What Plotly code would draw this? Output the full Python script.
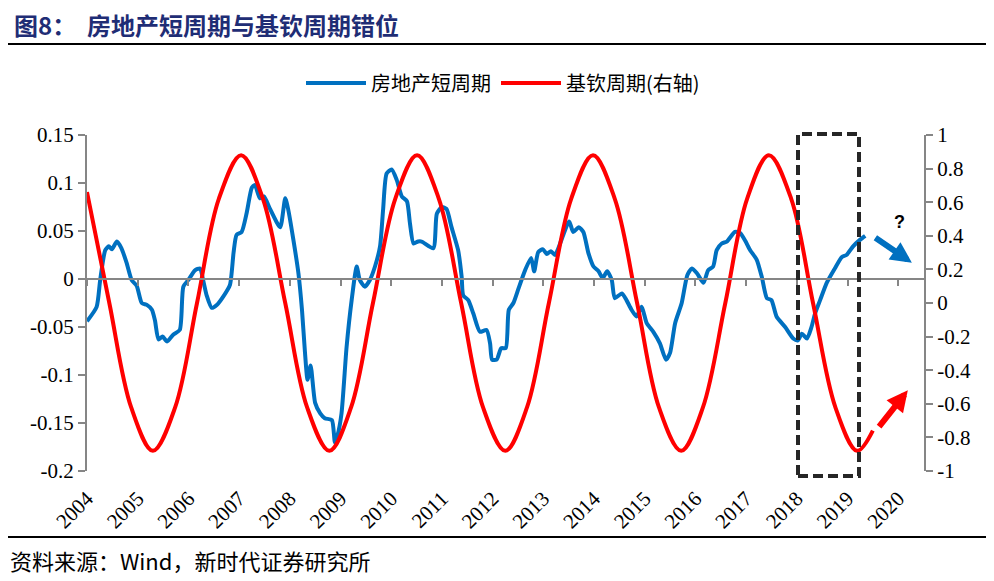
import plotly.graph_objects as go

# ---------------- data ----------------
blue_t = [2004.00, 2004.19, 2004.26, 2004.36, 2004.43, 2004.49, 2004.59, 2004.68, 2004.78, 2004.88,
          2004.98, 2005.08, 2005.18, 2005.28, 2005.34, 2005.41, 2005.49, 2005.58, 2005.70, 2005.83,
          2005.90, 2006.00, 2006.13, 2006.23, 2006.29, 2006.36, 2006.46, 2006.56, 2006.69, 2006.82,
          2006.89, 2006.95, 2007.05, 2007.15, 2007.25, 2007.31, 2007.41, 2007.49, 2007.61, 2007.81,
          2007.91, 2007.97, 2008.07, 2008.17, 2008.24, 2008.30, 2008.35, 2008.41, 2008.50, 2008.60,
          2008.69, 2008.83, 2008.89, 2008.94, 2009.02, 2009.12, 2009.22, 2009.32, 2009.38, 2009.48,
          2009.58, 2009.68, 2009.78, 2009.84, 2009.91, 2010.01, 2010.11, 2010.21, 2010.31, 2010.37,
          2010.44, 2010.53, 2010.60, 2010.83, 2010.90, 2011.00, 2011.09, 2011.19, 2011.32, 2011.39,
          2011.42, 2011.52, 2011.62, 2011.75, 2011.88, 2011.95, 2011.99, 2012.08, 2012.17, 2012.26,
          2012.32, 2012.41, 2012.51, 2012.64, 2012.76, 2012.82, 2012.90, 2012.99, 2013.07, 2013.15,
          2013.23, 2013.36, 2013.51, 2013.59, 2013.70, 2013.79, 2013.89, 2013.99, 2014.09, 2014.17,
          2014.26, 2014.35, 2014.41, 2014.55, 2014.64, 2014.74, 2014.84, 2014.94, 2015.04, 2015.17,
          2015.30, 2015.42, 2015.50, 2015.60, 2015.73, 2015.84, 2015.93, 2016.03, 2016.16, 2016.25,
          2016.35, 2016.42, 2016.52, 2016.62, 2016.78, 2016.88, 2016.98, 2017.08, 2017.21, 2017.31,
          2017.41, 2017.50, 2017.60, 2017.77, 2017.93, 2018.02, 2018.10, 2018.20, 2018.29, 2018.36,
          2018.46, 2018.59, 2018.75, 2018.89, 2018.98, 2019.11, 2019.25, 2019.35]
blue_v = [-0.044, -0.029, -0.001, 0.030, 0.034, 0.031, 0.039, 0.032, 0.017, -0.001,
          -0.007, -0.025, -0.027, -0.032, -0.043, -0.063, -0.060, -0.065, -0.058, -0.053,
          -0.008, -0.001, 0.009, 0.011, -0.001, -0.017, -0.030, -0.027, -0.018, -0.006,
          0.027, 0.046, 0.049, 0.069, 0.095, 0.098, 0.084, 0.086, 0.073, 0.054,
          0.084, 0.072, 0.041, 0.006, -0.032, -0.077, -0.105, -0.090, -0.129, -0.140,
          -0.145, -0.147, -0.170, -0.163, -0.140, -0.071, -0.022, 0.013, -0.001, -0.008,
          -0.001, 0.013, 0.034, 0.072, 0.110, 0.114, 0.103, 0.086, 0.081, 0.058,
          0.037, 0.039, 0.039, 0.032, 0.068, 0.075, 0.073, 0.054, 0.030, 0.002,
          -0.017, -0.022, -0.036, -0.055, -0.053, -0.067, -0.084, -0.084, -0.072, -0.072,
          -0.032, -0.025, -0.010, 0.009, 0.022, 0.008, 0.028, 0.031, 0.026, 0.029,
          0.025, 0.041, 0.060, 0.049, 0.054, 0.049, 0.027, 0.013, 0.008, 0.001,
          0.008, -0.001, -0.020, -0.015, -0.022, -0.032, -0.039, -0.029, -0.046, -0.055,
          -0.067, -0.084, -0.077, -0.046, -0.025, 0.004, 0.011, 0.006, -0.004, 0.009,
          0.013, 0.030, 0.037, 0.039, 0.049, 0.048, 0.040, 0.030, 0.020, 0.002,
          -0.020, -0.022, -0.039, -0.050, -0.062, -0.064, -0.057, -0.062, -0.050, -0.036,
          -0.022, -0.004, 0.011, 0.023, 0.025, 0.034, 0.041, 0.045]

red_t = [2004.00, 2004.44, 2004.87, 2005.30, 2005.74, 2006.17, 2006.60, 2007.04, 2007.47, 2007.91,
         2008.34, 2008.78, 2009.21, 2009.64, 2010.08, 2010.51, 2010.94, 2011.38, 2011.81, 2012.25,
         2012.68, 2013.11, 2013.55, 2013.98, 2014.41, 2014.85, 2015.28, 2015.72, 2016.15, 2016.59,
         2017.02, 2017.45, 2017.89, 2018.32, 2018.76, 2019.19, 2019.50]
red_v = [0.66, 0.0, -0.62, -0.88, -0.62, 0.0, 0.62, 0.88, 0.62, 0.0,
         -0.62, -0.88, -0.62, 0.0, 0.62, 0.88, 0.62, 0.0, -0.62, -0.88,
         -0.62, 0.0, 0.62, 0.88, 0.62, 0.0, -0.62, -0.88, -0.62, 0.0,
         0.62, 0.88, 0.62, 0.0, -0.62, -0.88, -0.76]

year_ticks = list(range(2004, 2021))
year_labels = [str(y) for y in year_ticks]
left_vals = [0.15, 0.1, 0.05, 0, -0.05, -0.1, -0.15, -0.2]
left_text = ["0.15", "0.1", "0.05", "0", "-0.05", "-0.1", "-0.15", "-0.2"]
right_vals = [1, 0.8, 0.6, 0.4, 0.2, 0, -0.2, -0.4, -0.6, -0.8, -1]
right_text = ["1", "0.8", "0.6", "0.4", "0.2", "0", "-0.2", "-0.4", "-0.6", "-0.8", "-1"]

name_blue = "房地产短周期"
name_red = "基钦周期(右轴)"
title_text = "图8：  房地产短周期与基钦周期错位"
source_text = "资料来源：Wind，新时代证券研究所"

# ---------------- layout geometry ----------------
# the page body adds an 8px offset, so the figure is laid out in page pixels minus OFF
OFF = 8
W, H = 994 - OFF, 581 - OFF
L = 87 - OFF
T = 135 - OFF
R = W - (924 - OFF)
B = H - (471 - OFF)
PW, PH = W - L - R, H - T - B


def px(x):
    return (x - OFF - L) / PW


def py(y):
    return (H - B - (y - OFF)) / PH


BLUE = "#0070C0"
RED = "#FF0000"
AXC = "#868686"
SERIF = "Liberation Serif, Times New Roman, serif"
CJK = "Noto Sans CJK SC, sans-serif"

fig = go.Figure()
fig.add_trace(go.Scatter(x=blue_t, y=blue_v, name=name_blue, mode="lines",
                         line=dict(color=BLUE, width=4, shape="spline", smoothing=0.6),
                         yaxis="y"))
fig.add_trace(go.Scatter(x=red_t, y=red_v, name=name_red, mode="lines",
                         line=dict(color=RED, width=4, shape="spline", smoothing=1.0),
                         yaxis="y2"))

xr = [2004, 2004 + (924 - 87) / 50.7]
y_range = [-0.2, 0.15]
zero_pos = (0 - y_range[0]) / (y_range[1] - y_range[0])

fig.update_layout(
    width=W, height=H,
    margin=dict(l=L, r=R, t=T, b=B),
    paper_bgcolor="white", plot_bgcolor="white",
    showlegend=True,
    legend=dict(orientation="h", x=px(503), xanchor="center", y=py(83), yanchor="middle",
                font=dict(family=CJK, size=20, color="black"), itemwidth=60,
                bgcolor="rgba(0,0,0,0)"),
    xaxis=dict(range=xr, tickvals=year_ticks, ticktext=year_labels, tickangle=-45,
               showline=False, showgrid=False, zeroline=False, ticks="outside", ticklen=6,
               tickcolor="rgba(0,0,0,0)",
               tickfont=dict(family=SERIF, size=21, color="black")),
    xaxis2=dict(range=xr, overlaying="x", anchor="free", position=zero_pos, side="bottom",
                tickvals=year_ticks, showticklabels=False, showline=True, linecolor=AXC,
                linewidth=2, ticks="outside", ticklen=6, tickwidth=2, tickcolor=AXC,
                showgrid=False, zeroline=False),
    yaxis=dict(range=y_range, tickvals=left_vals, ticktext=left_text, showline=True,
               linecolor=AXC, linewidth=2, ticks="outside", ticklen=7, tickwidth=2,
               tickcolor=AXC, showgrid=False, zeroline=False,
               tickfont=dict(family=SERIF, size=21, color="black")),
    yaxis2=dict(range=[-1, 1], overlaying="y", side="right", tickvals=right_vals,
                ticktext=right_text, showline=True, linecolor=AXC, linewidth=2,
                ticks="outside", ticklen=7, tickwidth=2, tickcolor=AXC, showgrid=False,
                zeroline=False, tickfont=dict(family=SERIF, size=21, color="black")),
)

# invisible helper trace so that the zero-line axis (xaxis2) is drawn
fig.add_trace(go.Scatter(x=[xr[0]], y=[0], xaxis="x2", yaxis="y", mode="markers",
                         marker=dict(opacity=0), showlegend=False, hoverinfo="skip"))

shapes = [
    dict(type="line", xref="paper", yref="paper", x0=px(5), x1=px(994), y0=py(44), y1=py(44),
         line=dict(color="black", width=2)),
    dict(type="line", xref="paper", yref="paper", x0=px(5), x1=px(994), y0=py(537), y1=py(537),
         line=dict(color="black", width=2)),
    dict(type="rect", xref="paper", yref="paper", x0=px(798), x1=px(859), y0=py(476), y1=py(134),
         line=dict(color="#262626", width=4, dash="10px,5px")),
]
fig.update_layout(shapes=shapes)

annotations = [
    dict(xref="paper", yref="paper", x=px(12), y=py(24), xanchor="left", yanchor="middle",
         text="<b>" + title_text + "</b>", showarrow=False,
         font=dict(family=CJK, size=24, color="#1F2D75")),
    dict(xref="paper", yref="paper", x=px(8), y=py(560), xanchor="left", yanchor="middle",
         text=source_text, showarrow=False, font=dict(family=CJK, size=22, color="black")),
    dict(xref="paper", yref="paper", x=px(899), y=py(222), xanchor="center", yanchor="middle",
         text="<b>?</b>", showarrow=False, font=dict(family="Liberation Sans, Arial", size=18,
                                                      color="black")),
    dict(xref="x", yref="y", axref="x", ayref="y", x=2020.27, y=0.017, ax=2019.52, ay=0.044,
         text="", showarrow=True, arrowhead=2, arrowsize=0.7, arrowwidth=6, arrowcolor=BLUE,
         standoff=0, startstandoff=0),
    dict(xref="x", yref="y2", axref="x", ayref="y2", x=2020.19, y=-0.52, ax=2019.60, ay=-0.745,
         text="", showarrow=True, arrowhead=2, arrowsize=0.7, arrowwidth=6, arrowcolor=RED,
         standoff=0, startstandoff=0),
]
fig.update_layout(annotations=annotations)

fig.write_html("out.html")
